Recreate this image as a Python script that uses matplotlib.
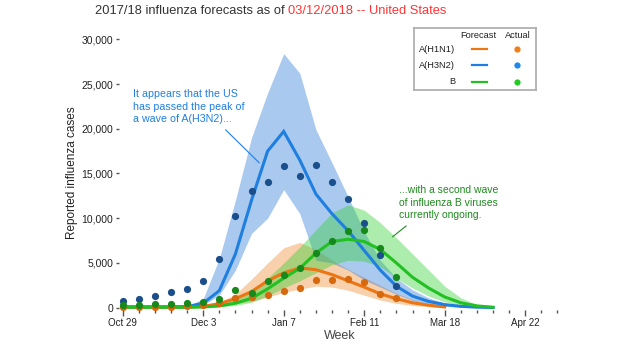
import matplotlib
matplotlib.use("Agg")
import matplotlib.pyplot as plt
import numpy as np

plt.rcParams["font.family"] = ["Liberation Sans", "DejaVu Sans"]

# week index 0 = Oct 29, 2017
tick_weeks = [0, 5, 10, 15, 20, 25]
tick_labels = ["Oct 29", "Dec 3", "Jan 7", "Feb 11", "Mar 18", "Apr 22"]
n_weeks = 28

# observed weekly cases
h1n1_actual = [60, 80, 100, 120, 150, 250, 550, 1050, 1230, 1380, 1830, 2200,
               3100, 3100, 3210, 2910, 1580, 1050]
h3n2_actual = [750, 970, 1270, 1720, 2090, 2980, 5410, 10250, 13080, 14050, 15870,
               14760, 15910, 14090, 12190, 9430, 5890, 2420]
b_actual = [300, 300, 410, 410, 520, 640, 1010, 1980, 1680, 3020, 3690, 4400,
            6150, 7490, 8540, 8650, 6640, 3470]

# forecasts (median + band)
h1n1_fc = [50, 50, 50, 50, 60, 150, 450, 1000, 1800, 3000, 3900, 4450, 4250, 3700,
           3000, 2300, 1550, 1000, 550, 280, 80]
h1n1_lo = [50, 50, 50, 50, 50, 100, 250, 450, 700, 1200, 1700, 2100, 2400, 2300,
           1950, 1400, 850, 480, 250, 110, 30]
h1n1_hi = [50, 50, 50, 50, 80, 250, 600, 1500, 3200, 5000, 6700, 7300, 6500, 5300,
           4300, 3400, 2500, 1600, 900, 450, 150]

h3n2_fc = [100, 100, 100, 100, 120, 500, 1900, 6000, 12000, 17500, 19700, 16500,
           12700, 10500, 8600, 6400, 4200, 2400, 1300, 700, 350, 150, 60, 20]
h3n2_lo = [100, 100, 100, 100, 100, 300, 1400, 4200, 8300, 10000, 13200, 10500,
           5300, 5000, 4200, 3100, 2300, 1500, 800, 400, 150, 60, 20, 10]
h3n2_hi = [100, 100, 100, 100, 150, 1000, 5500, 12000, 19000, 24000, 28400, 26200,
           19900, 16200, 12400, 8500, 5300, 3300, 2000, 1100, 500, 200, 70, 20]

b_fc = [50, 50, 50, 50, 50, 80, 200, 500, 1050, 2100, 3300, 4400, 6100, 7400, 7650,
        7400, 6500, 5000, 3400, 2200, 1200, 550, 200, 50]
b_lo = [30, 30, 30, 30, 30, 30, 100, 250, 600, 1300, 2200, 3000, 3900, 4800, 5300,
        5200, 4600, 3300, 2200, 1300, 650, 280, 100, 30]
b_hi = [60, 60, 60, 60, 60, 120, 400, 900, 1800, 3300, 5000, 6800, 8700, 10600, 11500,
        10900, 9500, 7800, 6000, 4200, 2400, 1100, 350, 80]

series = [
    # name, fc, lo, hi, actual, line, band, dot, legend dot
    ("A(H1N1)", h1n1_fc, h1n1_lo, h1n1_hi, h1n1_actual, "#ec7514", "#f08a30", "#d6680e", "#f07f16"),
    ("A(H3N2)", h3n2_fc, h3n2_lo, h3n2_hi, h3n2_actual, "#1f7fe0", "#2a7ad8", "#1b4f8c", "#1f88ee"),
    ("B", b_fc, b_lo, b_hi, b_actual, "#22c022", "#30d030", "#15891a", "#22cc22"),
]

fig = plt.figure(figsize=(6.2, 3.5), dpi=100)
W, H = 620, 350
ax = fig.add_axes([119 / W, (H - 310) / H, 441 / W, 275 / H])

for name, fc, lo, hi, act, lc, bc, dc, ldc in series:
    ax.fill_between(np.arange(len(lo)), lo, hi, color=bc, alpha=0.4, lw=0, zorder=1)
for name, fc, lo, hi, act, lc, bc, dc, ldc in series:
    ax.plot(np.arange(len(fc)), fc, color=lc, lw=2.2, zorder=3, solid_joinstyle="miter")
for name, fc, lo, hi, act, lc, bc, dc, ldc in series:
    ax.plot(np.arange(len(act)), act, "o", color=dc, ms=5.2, mew=0, zorder=4, clip_on=False)

ax.set_xlim(-0.23, 27.16)
ax.set_ylim(-257, 30480)
for s in ax.spines.values():
    s.set_visible(False)

ax.set_xticks(tick_weeks)
ax.set_xticklabels(tick_labels, fontsize=7, color="#222222")
ax.set_xticks([w for w in range(n_weeks) if w not in tick_weeks], minor=True)
ax.tick_params(axis="x", which="major", length=4, width=1, color="#555555", pad=2)
ax.tick_params(axis="x", which="minor", length=2, width=1, color="#555555")
ax.set_yticks(range(0, 30001, 5000))
ax.set_yticklabels([f"{v:,}" for v in range(0, 30001, 5000)], fontsize=7.5, color="#222222")
ax.tick_params(axis="y", length=2.5, width=1, color="#555555", pad=1.5)
ax.set_xlabel("Week", fontsize=9, color="#444444", labelpad=1)
ax.set_ylabel("Reported influenza cases", fontsize=8.5, color="#222222", labelpad=3)

# annotations
ax.text(0.64, 24400, "It appears that the US\nhas passed the peak of\na wave of A(H3N2)...",
        color="#1f7fe0", fontsize=7.7, va="top", ha="left", linespacing=1.3)
ax.plot([6.4, 8.47], [19870, 16210], color="#1f7fe0", lw=0.8, zorder=5)
ax.text(17.18, 13700, "...with a second wave\nof influenza B viruses\ncurrently ongoing.",
        color="#1f8a1f", fontsize=7.5, va="top", ha="left", linespacing=1.3)
ax.plot([17.6, 16.77], [9130, 7940], color="#1f8a1f", lw=0.8, zorder=5)

# title
fig.text(285 / W, 1 - 11 / H, "2017/18 influenza forecasts as of", ha="right", va="center",
         fontsize=9.3, color="#333333")
fig.text(288 / W, 1 - 11 / H, "03/12/2018 -- United States", ha="left", va="center",
         fontsize=9.3, color="#ff3333")

# legend drawn in its own pixel-space axes
lx0, lx1, ly0, ly1 = 414, 536, 28, 90
lg = fig.add_axes([lx0 / W, (H - ly1) / H, (lx1 - lx0) / W, (ly1 - ly0) / H])
lg.set_xlim(lx0, lx1)
lg.set_ylim(ly1, ly0)
lg.set_xticks([])
lg.set_yticks([])
for s in lg.spines.values():
    s.set_color("#aaaaaa")
    s.set_linewidth(1.2)
lg.text(478, 35, "Forecast", ha="center", va="center", fontsize=6.7, color="#222222")
lg.text(517.5, 35, "Actual", ha="center", va="center", fontsize=6.7, color="#222222")
for i, (name, fc, lo, hi, act, lc, bc, dc, ldc) in enumerate(series):
    yy = 49 + i * 16.3
    lg.text(455, yy, name, ha="right", va="center", fontsize=6.7, color="#222222")
    lg.plot([471.7, 487.3], [yy, yy], color=lc, lw=1.6)
    lg.plot([517.3], [yy], "o", color=ldc, ms=4.5, mew=0)

fig.savefig("out.png", dpi=100)
